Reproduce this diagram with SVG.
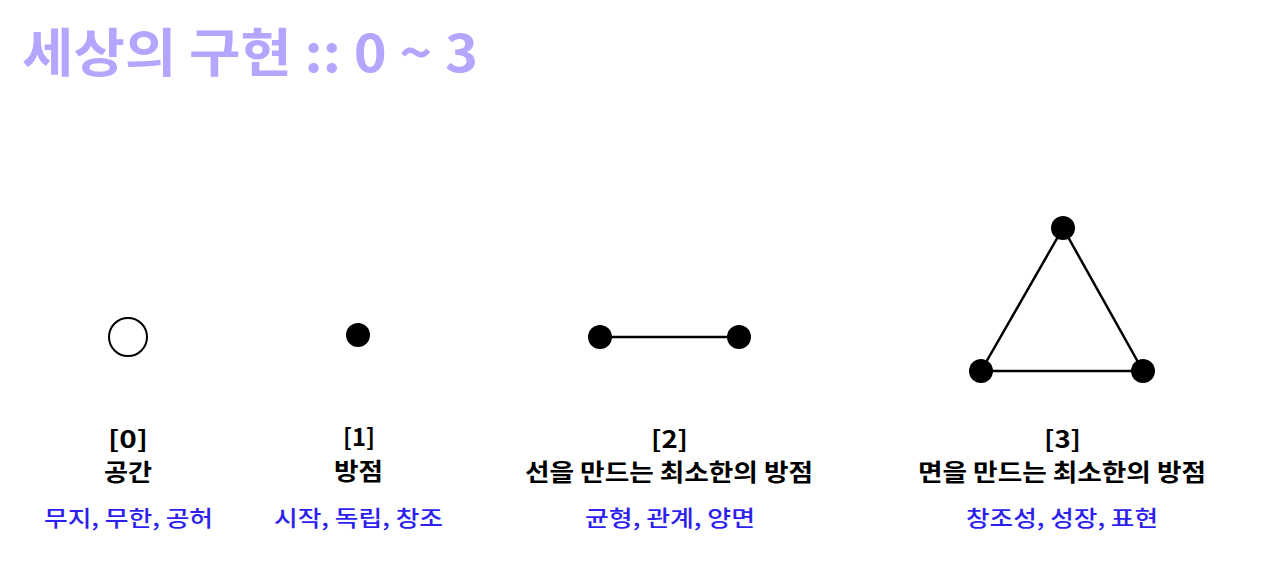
<svg xmlns="http://www.w3.org/2000/svg" width="1280" height="573" viewBox="0 0 1280 573">
<style>
text{font-family:"Noto Sans CJK KR","Noto Sans",sans-serif;text-anchor:middle}
.t{font-size:52px;font-weight:700;fill:#b2a6ff;text-anchor:start}
.h{font-size:24px;font-weight:700;fill:#000}
.s{font-size:22px;font-weight:500;fill:#2d1ff0}
.dot{fill:#000}
.ln{stroke:#000;stroke-width:2.5;fill:none}
</style>
<rect width="1280" height="573" fill="#fff"/>
<text class="t" x="22" y="72" textLength="456" lengthAdjust="spacingAndGlyphs">세상의 구현 :: 0 ~ 3</text>
<g id="connectors">
<line class="ln" x1="600" y1="337" x2="739" y2="337"/>
<polygon class="ln" points="1063,228 981,371 1143,371"/>
</g>
<g id="node0">
<circle cx="128" cy="337" r="19" fill="#fff" stroke="#000" stroke-width="2"/>
<text class="h" x="128" y="448" textLength="40" lengthAdjust="spacingAndGlyphs">[0]</text>
<text class="h" x="128" y="481" textLength="48" lengthAdjust="spacingAndGlyphs">공간</text>
<text class="s" x="128.5" y="526" textLength="169" lengthAdjust="spacingAndGlyphs">무지, 무한, 공허</text>
</g>
<g id="node1">
<circle class="dot" cx="358" cy="335" r="12"/>
<text class="h" x="359" y="446" textLength="32" lengthAdjust="spacingAndGlyphs">[1]</text>
<text class="h" x="358.5" y="480" textLength="49" lengthAdjust="spacingAndGlyphs">방점</text>
<text class="s" x="358.5" y="526" textLength="169" lengthAdjust="spacingAndGlyphs">시작, 독립, 창조</text>
</g>
<g id="node2">
<circle class="dot" cx="600" cy="337" r="12"/>
<circle class="dot" cx="739" cy="337" r="12"/>
<text class="h" x="669.5" y="448" textLength="37" lengthAdjust="spacingAndGlyphs">[2]</text>
<text class="h" x="669" y="481" textLength="288" lengthAdjust="spacingAndGlyphs">선을 만드는 최소한의 방점</text>
<text class="s" x="670" y="526" textLength="170" lengthAdjust="spacingAndGlyphs">균형, 관계, 양면</text>
</g>
<g id="node3">
<circle class="dot" cx="1063" cy="228" r="12"/>
<circle class="dot" cx="981" cy="371" r="12"/>
<circle class="dot" cx="1143" cy="371" r="12"/>
<text class="h" x="1062.5" y="448" textLength="37" lengthAdjust="spacingAndGlyphs">[3]</text>
<text class="h" x="1062" y="481" textLength="288" lengthAdjust="spacingAndGlyphs">면을 만드는 최소한의 방점</text>
<text class="s" x="1062" y="526" textLength="192" lengthAdjust="spacingAndGlyphs">창조성, 성장, 표현</text>
</g>
</svg>
